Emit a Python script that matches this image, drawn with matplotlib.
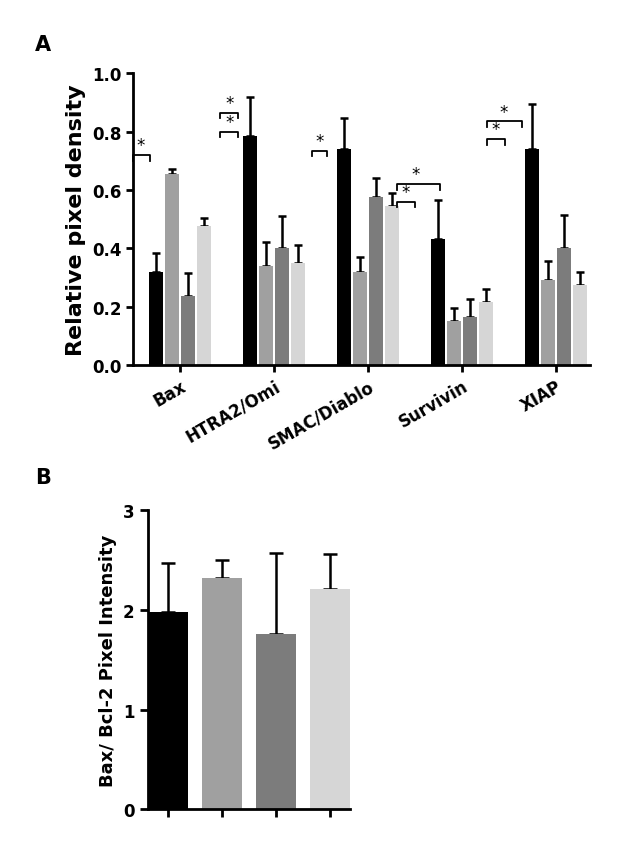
import matplotlib.pyplot as plt
import numpy as np

plt.rcParams['font.family'] = ['DejaVu Sans']
plt.rcParams['font.weight'] = 'bold'

groups = ["Bax", "HTRA2/Omi", "SMAC/Diablo", "Survivin", "XIAP"]
colors = ["#000000", "#a0a0a0", "#7c7c7c", "#d6d6d6"]
means = [[0.32, 0.785, 0.74, 0.43, 0.74],
         [0.655, 0.34, 0.32, 0.15, 0.29],
         [0.235, 0.40, 0.575, 0.165, 0.40],
         [0.475, 0.35, 0.545, 0.215, 0.275]]
errs = [[0.065, 0.135, 0.105, 0.135, 0.155],
        [0.015, 0.08, 0.05, 0.045, 0.065],
        [0.08, 0.11, 0.065, 0.06, 0.115],
        [0.03, 0.06, 0.045, 0.045, 0.045]]
# brackets: (x start px, x end px, y level, star x px)
brackets = [(133, 150, 0.72, 141), (220, 238, 0.80, 229), (220, 238, 0.865, 229),
            (312, 327, 0.735, 319), (397, 415, 0.56, 405), (397, 440, 0.62, 415),
            (487, 505, 0.775, 495), (487, 522, 0.835, 503)]

b_means = [1.98, 2.32, 1.76, 2.21]
b_errs = [0.49, 0.18, 0.81, 0.35]

fig = plt.figure(figsize=(6.4, 8.53), dpi=100)

ax = fig.add_axes([0.208, 0.571, 0.714, 0.342])
x = np.arange(len(groups))
off = [-0.255, -0.085, 0.085, 0.255]
for i in range(4):
    ax.bar(x + off[i], means[i], 0.15, color=colors[i], zorder=2)
    ax.errorbar(x + off[i], means[i], yerr=[np.zeros(5), errs[i]], fmt='none',
                ecolor='black', elinewidth=1.8, capsize=3, capthick=1.8, zorder=1)
for x0, x1, y, xs in brackets:
    a, b, s = (x0 - 180) / 94, (x1 - 180) / 94, (xs - 180) / 94
    ax.plot([a, a, b, b], [y - 0.02, y, y, y - 0.02], color='black', lw=1.3, clip_on=False)
    ax.text(s, y + 0.002, "*", ha='center', va='bottom', fontsize=12, fontweight='normal')
ax.set_xlim(-0.5, 4.36)
ax.set_ylim(0, 1.0)
ax.set_yticks([0, 0.2, 0.4, 0.6, 0.8, 1.0])
ax.set_yticklabels(["0.0", "0.2", "0.4", "0.6", "0.8", "1.0"], fontsize=12, fontweight='bold')
ax.set_xticks(x)
ax.set_xticklabels(groups, rotation=30, ha='right', rotation_mode='anchor', fontsize=12, fontweight='bold')
ax.set_ylabel("Relative pixel density", fontsize=16, fontweight='bold')
for sp in ['top', 'right']:
    ax.spines[sp].set_visible(False)
for sp in ['left', 'bottom']:
    ax.spines[sp].set_linewidth(2)
ax.tick_params(width=2, length=5)

bx = fig.add_axes([0.231, 0.05, 0.316, 0.351])
xb = np.arange(4)
bx.bar(xb, b_means, 0.74, color=colors, zorder=2)
bx.errorbar(xb, b_means, yerr=[np.zeros(4), b_errs], fmt='none', ecolor='black',
            elinewidth=1.8, capsize=5, capthick=1.8, zorder=1)
bx.set_xlim(-0.37, 3.37)
bx.set_ylim(0, 3)
bx.set_yticks([0, 1, 2, 3])
bx.set_yticklabels(["0", "1", "2", "3"], fontsize=12, fontweight='bold')
bx.set_xticks(xb)
bx.set_xticklabels([])
bx.set_ylabel("Bax/ Bcl-2 Pixel Intensity", fontsize=13, fontweight='bold')
for sp in ['top', 'right']:
    bx.spines[sp].set_visible(False)
for sp in ['left', 'bottom']:
    bx.spines[sp].set_linewidth(2)
bx.tick_params(width=2, length=6)

fig.text(35 / 640, 1 - 45 / 853, "A", fontsize=15, fontweight='bold', va='center')
fig.text(35 / 640, 1 - 478 / 853, "B", fontsize=15, fontweight='bold', va='center')

fig.savefig("out.png", dpi=100)
